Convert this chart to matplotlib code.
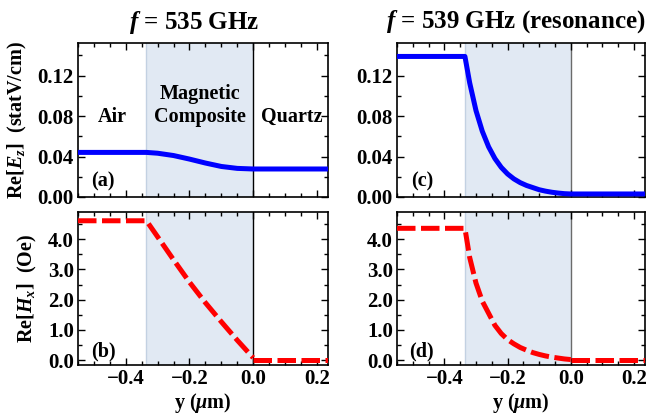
import matplotlib
matplotlib.use("Agg")
import matplotlib.pyplot as plt
from matplotlib.ticker import MultipleLocator, FuncFormatter

# fonts: bold serif everywhere, like the Mathematica original
plt.rcParams['font.family'] = ['Liberation Serif', 'DejaVu Serif']
plt.rcParams['font.weight'] = 'bold'
plt.rcParams['axes.labelweight'] = 'bold'
plt.rcParams['mathtext.fontset'] = 'custom'
plt.rcParams['mathtext.rm'] = 'Liberation Serif:bold'
plt.rcParams['mathtext.it'] = 'Liberation Serif:bold:italic'
plt.rcParams['mathtext.bf'] = 'Liberation Serif:bold'

# layer boundaries (um)
film_start = -0.335
film_end = 0.0
x_range = (-0.55, 0.235)

# f = 535 GHz, Re[Ez] (statV/cm), continuous across all layers
y_E535 = [-0.55, -0.335, -0.30, -0.25, -0.20, -0.15, -0.10, -0.05, 0.0, 0.235]
E535 = [0.0441, 0.0441, 0.0433, 0.0410, 0.0375, 0.0336, 0.0302, 0.0283, 0.0277, 0.0277]

# f = 535 GHz, Re[Hx] (Oe), jumps at the quartz interface
y_H535_air = [-0.55, -0.335, -0.30, -0.25, -0.20, -0.15, -0.10, -0.05, 0.0]
H535_air = [4.61, 4.61, 4.08, 3.32, 2.58, 1.90, 1.27, 0.66, 0.08]
y_H535_qz = [0.0, 0.235]
H535_qz = [0.0, 0.0]

# f = 539 GHz (resonance)
y_E539 = [-0.55, -0.335, -0.32, -0.30, -0.28, -0.26, -0.24, -0.22, -0.20, -0.18,
          -0.16, -0.14, -0.12, -0.10, -0.08, -0.06, -0.04, -0.02, 0.0, 0.235]
E539 = [0.139, 0.139, 0.113, 0.0855, 0.065, 0.0496, 0.038, 0.0293, 0.0228, 0.0179,
        0.0142, 0.0114, 0.0093, 0.0072, 0.0058, 0.0047, 0.0039, 0.0033, 0.0030, 0.0030]

y_H539_air = [-0.55, -0.335, -0.32, -0.30, -0.28, -0.26, -0.24, -0.22, -0.20, -0.18,
              -0.16, -0.14, -0.12, -0.10, -0.08, -0.06, -0.04, -0.02, 0.0]
H539_air = [4.36, 4.36, 3.40, 2.55, 1.95, 1.55, 1.15, 0.88, 0.68, 0.54,
            0.42, 0.33, 0.25, 0.19, 0.14, 0.10, 0.07, 0.04, 0.02]
y_H539_qz = [0.0, 0.235]
H539_qz = [0.0, 0.0]

fill_col = '#e1e9f3'
tick_fs = 15
lab_fs = 14.5


def fmt(ndig):
    # real minus sign, fixed decimals
    return FuncFormatter(lambda v, pos: ('%.*f' % (ndig, v)).replace('-', '\u2212'))


fig = plt.figure(figsize=(6.5, 4.16), dpi=100)
W, H = 650.0, 416.0
ax_a = fig.add_axes([78 / W, 1 - 197 / H, 250 / W, 153.7 / H])
ax_b = fig.add_axes([78 / W, 1 - 365.3 / H, 250 / W, 153.3 / H])
ax_c = fig.add_axes([397 / W, 1 - 197 / H, 248 / W, 153.7 / H])
ax_d = fig.add_axes([397 / W, 1 - 365.3 / H, 248 / W, 153.3 / H])


def frame(ax, bound_col):
    ax.axvspan(film_start, film_end, color=fill_col, lw=0, zorder=0)
    ax.axvline(film_start, color='#c3d1e2', lw=1.0, zorder=1)
    ax.axvline(film_end, color=bound_col, lw=1.0, zorder=1)
    ax.set_xlim(*x_range)
    ax.xaxis.set_major_locator(MultipleLocator(0.2))
    ax.xaxis.set_minor_locator(MultipleLocator(0.05))
    ax.xaxis.set_major_formatter(fmt(1))
    ax.tick_params(which='both', direction='in', top=True, right=True,
                   labelsize=tick_fs, width=1.0, pad=3)
    ax.tick_params(which='major', length=5)
    ax.tick_params(which='minor', length=3)
    for s in ax.spines.values():
        s.set_linewidth(1.2)


for ax, bc in [(ax_a, 'black'), (ax_b, 'black'), (ax_c, '#6b6b6b'), (ax_d, '#6b6b6b')]:
    frame(ax, bc)

# E panels
for ax, yy, ee in [(ax_a, y_E535, E535), (ax_c, y_E539, E539)]:
    ax.plot(yy, ee, color='#0000ff', lw=3.6, solid_capstyle='butt', zorder=3)
    ax.set_ylim(0, 0.152)
    ax.yaxis.set_major_locator(MultipleLocator(0.04))
    ax.yaxis.set_minor_locator(MultipleLocator(0.02))
    ax.yaxis.set_major_formatter(fmt(2))
    ax.tick_params(labelbottom=False)

# H panels
for ax, ya, ha, yq, hq in [(ax_b, y_H535_air, H535_air, y_H535_qz, H535_qz),
                           (ax_d, y_H539_air, H539_air, y_H539_qz, H539_qz)]:
    for xs, vs in [(ya, ha), (yq, hq)]:
        ln, = ax.plot(xs, vs, color='#ff0000', lw=3.6, dash_capstyle='butt', zorder=3)
        ln.set_dashes((3.7, 1.1))
    ax.set_ylim(-0.17, 4.9)
    ax.yaxis.set_major_locator(MultipleLocator(1.0))
    ax.yaxis.set_minor_locator(MultipleLocator(0.5))
    ax.yaxis.set_major_formatter(fmt(1))
    ax.set_xlabel(r'y ($\mu$m)', fontsize=lab_fs, labelpad=1)

ax_a.set_ylabel(r'Re$[E_z]$  (statV/cm)', fontsize=lab_fs, labelpad=6)
ax_b.set_ylabel(r'Re$[H_x]$  (Oe)', fontsize=lab_fs, labelpad=6)

# region names
ax_a.text(-0.443, 0.079, 'Air', fontsize=lab_fs, ha='center', va='center')
ax_a.text(-0.168, 0.1017, 'Magnetic', fontsize=lab_fs, ha='center', va='center')
ax_a.text(-0.168, 0.079, 'Composite', fontsize=lab_fs, ha='center', va='center')
ax_a.text(0.122, 0.079, 'Quartz', fontsize=lab_fs, ha='center', va='center')

for ax, lab, yf in [(ax_a, '(a)', 0.098), (ax_b, '(b)', 0.09),
                    (ax_c, '(c)', 0.10), (ax_d, '(d)', 0.09)]:
    ax.text(0.10, yf, lab, transform=ax.transAxes, fontsize=lab_fs,
            ha='center', va='center')

fig.text(194 / W, 1 - 23 / H, r'$f$ = 535 GHz', fontsize=18, ha='center', va='center')
fig.text(516 / W, 1 - 22 / H, r'$f$ = 539 GHz (resonance)', fontsize=18,
         ha='center', va='center')

fig.savefig('out.png', dpi=100)
